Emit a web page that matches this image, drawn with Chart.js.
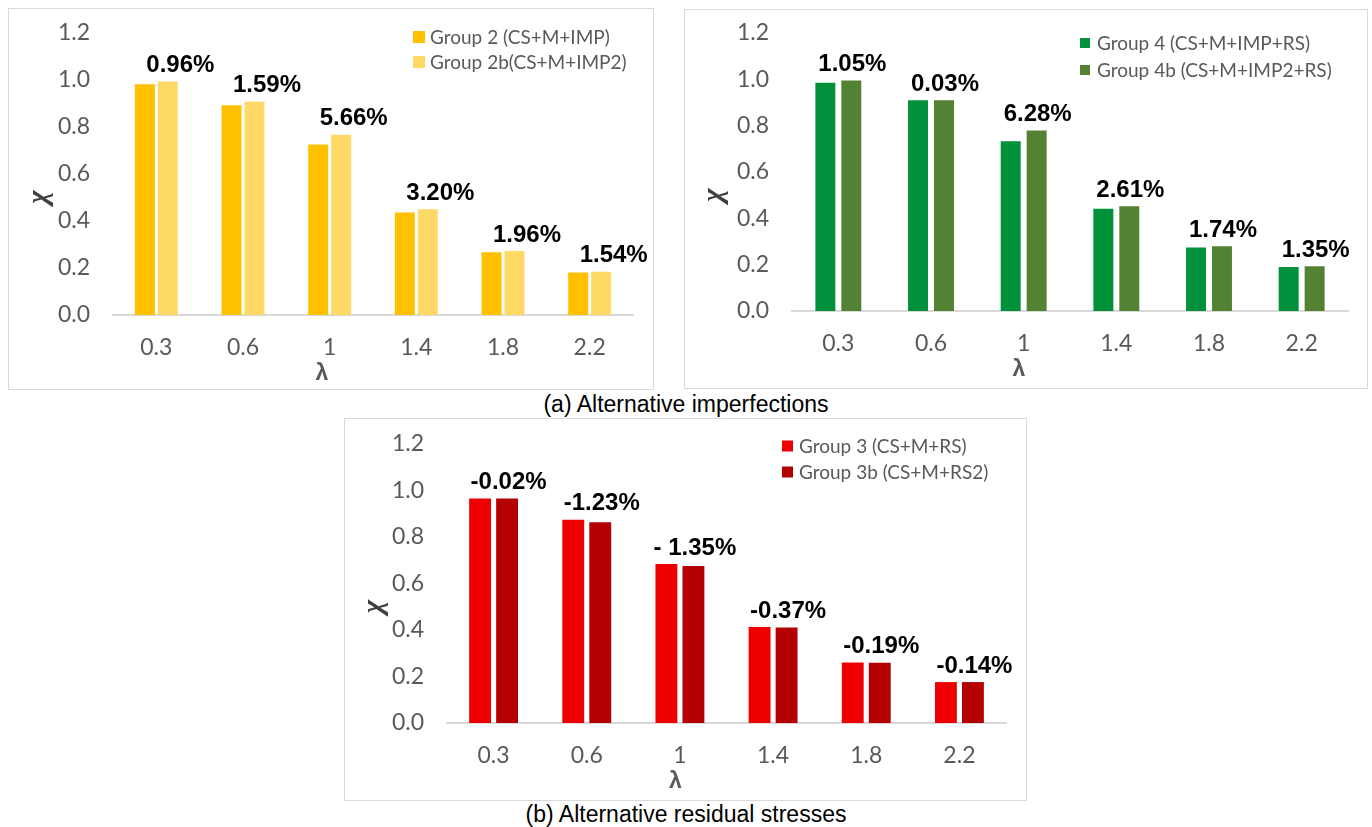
<!DOCTYPE html>
<html>
<head>
<meta charset="utf-8">
<script src="https://cdn.jsdelivr.net/npm/chart.js@4.4.1/dist/chart.umd.min.js"></script>
<style>
body { margin: 0; background: #fff; width: 1372px; height: 827px; position: relative; overflow: hidden; }
.box { position: absolute; border: 1px solid #d9d9d9; box-sizing: border-box; background: #fff; }
.box canvas { display: block; }
.cap { position: absolute; left: 0; width: 1372px; text-align: center; font: 23px "Liberation Sans", Arial, sans-serif; color: #000; }
</style>
</head>
<body>
<div class="box" style="left:8px;top:8px;width:646px;height:382px"><canvas id="c1" width="644" height="380"></canvas></div>
<div class="box" style="left:684px;top:9px;width:684px;height:380px"><canvas id="c2" width="682" height="378"></canvas></div>
<div class="box" style="left:344px;top:418px;width:683px;height:383px"><canvas id="c3" width="681" height="381"></canvas></div>
<div class="cap" style="top:391px">(a) Alternative imperfections</div>
<div class="cap" style="top:801px">(b) Alternative residual stresses</div>

<script>
// slenderness categories (x axis)
const lambdaLabels = ['0.3', '0.6', '1', '1.4', '1.8', '2.2'];

// (a) imperfections
const group2 = [0.982, 0.893, 0.726, 0.436, 0.267, 0.181];
const group2b = [0.994, 0.907, 0.767, 0.450, 0.272, 0.184];
const diff2 = ['0.96%', '1.59%', '5.66%', '3.20%', '1.96%', '1.54%'];

const group4 = [0.985, 0.910, 0.733, 0.441, 0.274, 0.190];
const group4b = [0.995, 0.910, 0.779, 0.452, 0.279, 0.193];
const diff4 = ['1.05%', '0.03%', '6.28%', '2.61%', '1.74%', '1.35%'];

// (b) residual stresses
const group3 = [0.966, 0.874, 0.684, 0.413, 0.260, 0.176];
const group3b = [0.966, 0.863, 0.675, 0.411, 0.259, 0.176];
const diff3 = ['-0.02%', '-1.23%', '- 1.35%', '-0.37%', '-0.19%', '-0.14%'];

const TICK_COLOR = '#595959';

// percent difference above each pair of bars
const diffLabels = {
    id: 'diffLabels',
    afterDatasetsDraw(chart, args, opts) {
        const ctx = chart.ctx;
        const xs = chart.scales.x, ys = chart.scales.y;
        const a = chart.data.datasets[0].data, b = chart.data.datasets[1].data;
        ctx.save();
        ctx.font = 'bold 24px "Liberation Sans", Arial, sans-serif';
        ctx.fillStyle = '#000';
        ctx.textAlign = 'center';
        ctx.textBaseline = 'middle';
        opts.texts.forEach((t, i) => {
            const x = xs.getPixelForValue(i) + opts.dx;
            const y = ys.getPixelForValue(Math.max(a[i], b[i])) - opts.dy;
            ctx.fillText(t, x, y);
        });
        ctx.restore();
    }
};

// legend inside the plot, top right
const boxLegend = {
    id: 'boxLegend',
    afterDraw(chart, args, opts) {
        const ctx = chart.ctx;
        ctx.save();
        ctx.font = '19px Lato, sans-serif';
        ctx.textBaseline = 'middle';
        chart.data.datasets.forEach((ds, i) => {
            const y = opts.top + i * opts.rowGap;
            ctx.fillStyle = ds.backgroundColor;
            ctx.fillRect(opts.left, y - opts.box / 2, opts.box, opts.box);
            ctx.fillStyle = TICK_COLOR;
            ctx.fillText(ds.label, opts.left + 17, y + 1);
        });
        ctx.restore();
    }
};

// axis symbols chi / lambda (Excel puts them off-centre)
const axisSymbols = {
    id: 'axisSymbols',
    afterDraw(chart, args, opts) {
        const ctx = chart.ctx;
        const ca = chart.chartArea;
        ctx.save();
        ctx.textAlign = 'center';
        ctx.textBaseline = 'middle';
        ctx.fillStyle = '#404040';
        ctx.font = 'bold italic 29px "Liberation Serif", serif';
        ctx.translate(ca.left + opts.yDx, (ca.top + ca.bottom) / 2 + 23);
        ctx.rotate(-Math.PI / 2);
        ctx.fillText('χ', 0, 0);
        ctx.restore();
        ctx.save();
        ctx.textAlign = 'center';
        ctx.textBaseline = 'middle';
        ctx.fillStyle = TICK_COLOR;
        ctx.font = 'bold 23px "Liberation Sans", Arial, sans-serif';
        ctx.fillText('λ', (ca.left + ca.right) / 2 + opts.xDx, ca.bottom + 59);
        ctx.restore();
    }
};

function makeChart(id, s) {
    const ctx = document.getElementById(id).getContext('2d');
    return new Chart(ctx, {
        type: 'bar',
        data: {
            labels: lambdaLabels,
            datasets: [
                { label: s.names[0], data: s.a, backgroundColor: s.colors[0], borderWidth: 0 },
                { label: s.names[1], data: s.b, backgroundColor: s.colors[1], borderWidth: 0 }
            ]
        },
        options: {
            responsive: false,
            animation: false,
            categoryPercentage: s.catPct,
            barPercentage: s.barPct,
            layout: { padding: { top: s.top, right: s.right, left: 0, bottom: 0 } },
            plugins: {
                legend: { display: false },
                tooltip: { enabled: false },
                diffLabels: { texts: s.texts, dx: s.dx, dy: s.dy },
                boxLegend: s.legend,
                axisSymbols: { yDx: s.yDx, xDx: -51 }
            },
            scales: {
                x: {
                    grid: { display: false, drawTicks: false },
                    border: { display: true, color: '#d9d9d9', width: 2 },
                    ticks: { color: TICK_COLOR, font: { family: 'Lato', size: 23 }, padding: 19 },
                    afterFit: sc => { sc.height = s.xh; }
                },
                y: {
                    min: 0,
                    max: 1.2,
                    grid: { display: false, drawTicks: false },
                    border: { display: false },
                    ticks: {
                        stepSize: 0.2,
                        color: TICK_COLOR,
                        font: { family: 'Lato', size: 23 },
                        padding: 23,
                        callback: v => v.toFixed(1)
                    },
                    // fixed axis width, and let layout padding alone set the top
                    afterFit: sc => { sc.width = s.yw; sc.paddingTop = 0; }
                }
            }
        },
        plugins: [diffLabels, boxLegend, axisSymbols]
    });
}

makeChart('c1', {
    names: ['Group 2 (CS+M+IMP)', 'Group 2b(CS+M+IMP2)'],
    a: group2, b: group2b, texts: diff2,
    colors: ['#FFC000', '#FFD966'],
    catPct: 0.53, barPct: 0.87,
    top: 24, right: 20, yw: 104, xh: 74,
    dx: 24, dy: 16, yDx: -73,
    legend: { left: 404, top: 28, rowGap: 25, box: 12 }
});

makeChart('c2', {
    names: ['Group 4 (CS+M+IMP+RS)', 'Group 4b (CS+M+IMP2+RS)'],
    a: group4, b: group4b, texts: diff4,
    colors: ['#00923A', '#548235'],
    catPct: 0.56, barPct: 0.77,
    top: 23, right: 19, yw: 107, xh: 77,
    dx: 14, dy: 16, yDx: -77,
    legend: { left: 395, top: 33, rowGap: 27, box: 10 }
});

makeChart('c3', {
    names: ['Group 3 (CS+M+RS)', 'Group 3b (CS+M+RS2)'],
    a: group3, b: group3b, texts: diff3,
    colors: ['#EE0000', '#B40000'],
    catPct: 0.58, barPct: 0.81,
    top: 25, right: 20, yw: 102, xh: 77,
    dx: 15, dy: 16, yDx: -72,
    legend: { left: 437, top: 27, rowGap: 26, box: 11 }
});
</script>
</body>
</html>
